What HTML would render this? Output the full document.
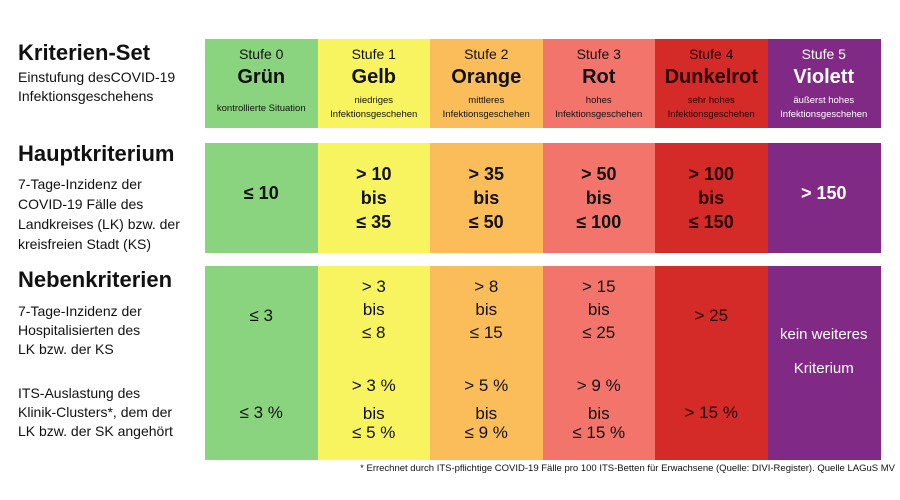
<!DOCTYPE html>
<html><head><meta charset="utf-8"><style>
body{margin:0;width:900px;height:500px;background:#fff;position:relative;overflow:hidden;font-family:"Liberation Sans",sans-serif;color:#111}
.a{position:absolute;white-space:nowrap}
.c{position:absolute;text-align:center;transform:translateX(-50%);white-space:nowrap}
.cell{position:absolute}
.n{font-family:"Liberation Sans Narrow","Liberation Sans",sans-serif}
</style></head><body>
<div class="a" style="left:18px;top:40px;font-size:22px;font-weight:bold">Kriterien-Set</div>
<div class="a" style="left:18px;top:68px;font-size:14px;line-height:19px">Einstufung desCOVID-19<br>Infektionsgeschehens</div>
<div class="a" style="left:18px;top:141px;font-size:22px;font-weight:bold">Hauptkriterium</div>
<div class="a" style="left:18px;top:174px;font-size:14px;line-height:20px">7-Tage-Inzidenz der<br>COVID-19 Fälle des<br>Landkreises (LK) bzw. der<br>kreisfreien Stadt (KS)</div>
<div class="a" style="left:18px;top:267px;font-size:22px;font-weight:bold">Nebenkriterien</div>
<div class="a n" style="left:18px;top:302px;font-size:14px;line-height:19px">7-Tage-Inzidenz der<br>Hospitalisierten des<br>LK bzw. der KS</div>
<div class="a n" style="left:18px;top:384px;font-size:14px;line-height:19px">ITS-Auslastung des<br>Klinik-Clusters*, dem der<br>LK bzw. der SK angehört</div>
<div id="grid"></div>
<div class="a n" style="right:5px;top:463px;font-size:9.5px">* Errechnet durch ITS-pflichtige COVID-19 Fälle pro 100 ITS-Betten für Erwachsene (Quelle: DIVI-Register). Quelle LAGuS MV</div>
<script>
const levels=['Stufe 0','Stufe 1','Stufe 2','Stufe 3','Stufe 4','Stufe 5'];
const names=['Grün','Gelb','Orange','Rot','Dunkelrot','Violett'];
const descs=[['kontrollierte Situation'],['niedriges','Infektionsgeschehen'],['mittleres','Infektionsgeschehen'],['hohes','Infektionsgeschehen'],['sehr hohes','Infektionsgeschehen'],['äußerst hohes','Infektionsgeschehen']];
const colors=['#8bd47f','#f8f45f','#fbbd5a','#f3746b','#d42b28','#802a85'];
const incidence=[['≤ 10'],['> 10','bis','≤ 35'],['> 35','bis','≤ 50'],['> 50','bis','≤ 100'],['> 100','bis','≤ 150'],['> 150']];
const hosp=[['≤ 3'],['> 3','bis','≤ 8'],['> 8','bis','≤ 15'],['> 15','bis','≤ 25'],['> 25'],null];
const its=[['≤ 3 %'],['> 3 %','bis','≤ 5 %'],['> 5 %','bis','≤ 9 %'],['> 9 %','bis','≤ 15 %'],['> 15 %'],null];
const g=document.getElementById('grid');
const x0=205,w=112.5;
function add(html,cls,style,name){const d=document.createElement('div');d.className=cls;d.style.cssText=style;d.innerHTML=html;


g.appendChild(d);return d;}
levels.forEach((lv,i)=>{
 const x=x0+i*w, cx=x+w/2, col=colors[i], tc=i==5?'#fff':(i==4?'#2a0000':'#111');
 add('','cell',`left:${x}px;top:39px;width:${w+0.5}px;height:89px;background:${col}`,'header-cell-'+i);
 add('','cell',`left:${x}px;top:143px;width:${w+0.5}px;height:110px;background:${col}`,'incidence-cell-'+i);
 add('','cell',`left:${x}px;top:266px;width:${w+0.5}px;height:194px;background:${col}`,'secondary-cell-'+i);
 add(lv,'c',`left:${cx}px;top:46px;font-size:14px;color:${tc}`,'level-label-'+i);
 add(names[i],'c',`left:${cx}px;top:66px;font-size:20px;font-weight:bold;color:${tc}`,'level-name-'+i);
 const d=descs[i];
 add(d.join('<br>'),'c n',`left:${cx}px;top:${d.length==1?102:94}px;font-size:9.5px;line-height:14px;color:${tc}`,'level-desc-'+i);
 const inc=incidence[i];
 add(inc.join('<br>'),'c',`left:${cx}px;top:${inc.length==1?181:162}px;font-size:18px;font-weight:bold;line-height:24px;color:${tc}`,'incidence-value-'+i);
 if(hosp[i]){const h=hosp[i];
  add(h.join('<br>'),'c n',`left:${cx}px;top:${h.length==1?304:275}px;font-size:17px;line-height:23px;color:${tc}`,'hosp-value-'+i);}
 if(its[i]){const t=its[i];
  add(t.length==1?t[0]:`${t[0]}<div style="margin-top:5px">${t[1]}</div><div style="margin-top:-4px">${t[2]}</div>`,'c n',`left:${cx}px;top:${t.length==1?401:374}px;font-size:17px;line-height:23px;color:${tc}`,'its-value-'+i);}
});
add('kein weiteres<br><div style="margin-top:11px">Kriterium</div>','c n',`left:${x0+5*w+w/2}px;top:323px;font-size:15px;line-height:23px;color:#fff`,'no-further-criterion');
</script>
</body></html>
